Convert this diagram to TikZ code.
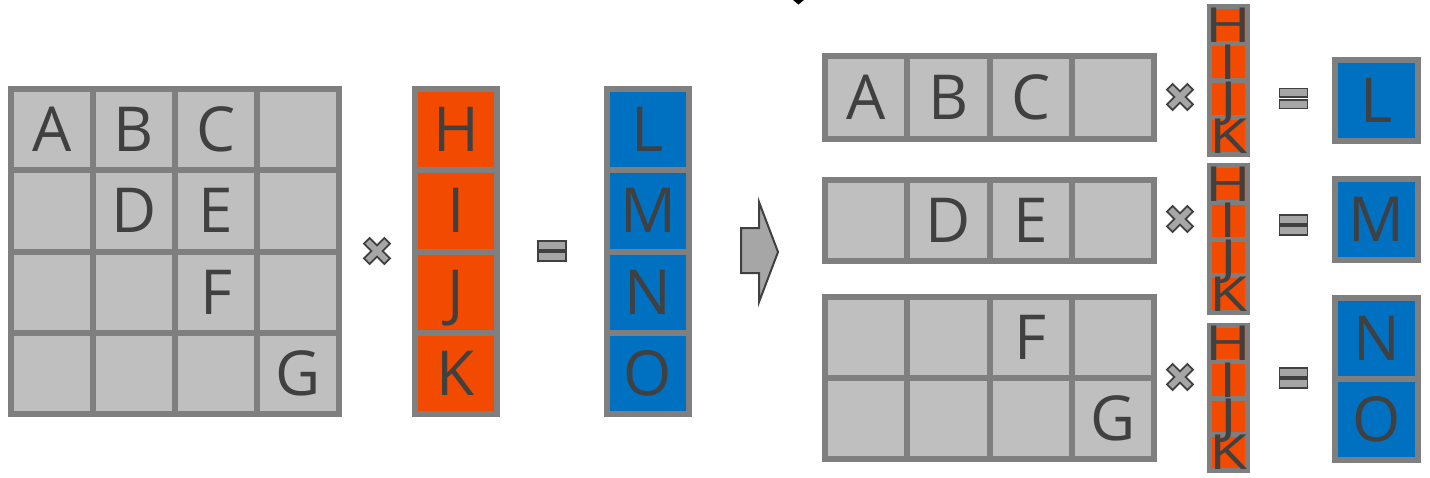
\documentclass[tikz,border=0pt]{standalone}
\usepackage{fontspec}
\setmainfont{Open Sans}
\usepackage{graphicx}
\definecolor{cellgray}{HTML}{BFBFBF}
\definecolor{linegray}{HTML}{7F7F7F}
\definecolor{txt}{HTML}{404040}
\definecolor{orng}{HTML}{F24B00}
\definecolor{blu}{HTML}{0070C0}
\definecolor{opgray}{HTML}{A6A6A6}
\begin{document}
\begin{tikzpicture}[x=1pt,y=-1pt,
  cell/.style={draw=linegray, line width=6pt, fill=cellgray, inner sep=0pt, text=txt,
    font=\fontsize{62}{62}\selectfont, text height=44pt, text depth=0pt, anchor=center,
    minimum width=82pt, minimum height=81.25pt},
  ocell/.style={cell, fill=orng},
  bcell/.style={cell, fill=blu},
  vcell/.style={draw=linegray, line width=5pt, fill=orng, inner sep=0pt,
    minimum width=38pt, minimum height=#1},
  vlet/.style={inner sep=0pt, text=txt, font=\fontsize{62}{62}\selectfont,
    text height=34.5pt, text depth=0pt},
  opline/.style={draw=txt, fill=opgray, line width=1.8pt, line join=miter},
  timesop/.pic={\filldraw[opline, rotate=45] (4,4) -- (4,14.4) -- (-4,14.4) -- (-4,4) -- (-14.4,4) -- (-14.4,-4)
      -- (-4,-4) -- (-4,-14.4) -- (4,-14.4) -- (4,-4) -- (14.4,-4) -- (14.4,4) -- cycle;},
  equalsop/.pic={\filldraw[opline] (-14,-10) rectangle (14,-1.2); \filldraw[opline] (-14,1.2) rectangle (14,10);}
]
\useasboundingbox (0,0) rectangle (1430,477);

% left matrix
\foreach \r/\c/\t in {1/1/A,1/2/B,1/3/C,1/4/{},2/1/{},2/2/D,2/3/E,2/4/{},3/1/{},3/2/{},3/3/F,3/4/{},4/1/{},4/2/{},4/3/{},4/4/G}
  \node[cell] (m\r\c) at ({11+82*(\c-0.5)}, {89+81.25*(\r-0.5)}) {\t};

% orange vector
\foreach \r/\t in {1/H,2/I,3/J,4/K}
  \node[ocell] (x\r) at (456, {89+81.25*(\r-0.5)}) {\t};

% blue vector
\foreach \r/\t in {1/L,2/M,3/N,4/O}
  \node[bcell] (y\r) at (648, {89+81.25*(\r-0.5)}) {\t};

\pic (t0) at (377,251) {timesop};
\pic (e0) at (552,251) {equalsop};

% block arrow
\filldraw[opline, line width=2pt] (741,228) -- (759,228) -- (759,202) -- (778,252) -- (759,302) -- (759,273) -- (741,273) -- cycle;

% cut-off mark at the top
\fill[black] (793,0) -- (804,0) -- (798.5,4.5) -- cycle;

% right rows
\foreach \c/\t in {1/A,2/B,3/C,4/{}}
  \node[cell, minimum width=82.25pt, minimum height=82.4pt] (r1\c) at ({825+82.25*(\c-0.5)}, 97.5) {\t};
\foreach \c/\t in {1/{},2/D,3/E,4/{}}
  \node[cell, minimum width=82.25pt, minimum height=81pt] (r2\c) at ({825+82.25*(\c-0.5)}, 220.5) {\t};
\foreach \c/\t in {1/{},2/{},3/F,4/{}}
  \node[cell, minimum width=82.25pt, minimum height=81pt] (r3\c) at ({825+82.25*(\c-0.5)}, 337.5) {\t};
\foreach \c/\t in {1/{},2/{},3/{},4/G}
  \node[cell, minimum width=82.25pt, minimum height=81pt] (r4\c) at ({825+82.25*(\c-0.5)}, 418.5) {\t};

% thin vectors
\foreach \v/\top/\h in {1/6.5/37, 2/165.5/36.75, 3/325.5/36.25} {
  \foreach \k in {1,2,3,4}
    \node[vcell=\h pt] (v\v\k) at (1228.5, {\top+\h*(\k-0.5)}) {};
  \foreach \k/\t in {1/H,2/I,3/J,4/K}
    \node[vlet] (w\v\k) at (v\v\k.center) {\scalebox{1}[0.78]{\t}};
}

\pic (t1) at (1180,97) {timesop};
\pic (t2) at (1180,219) {timesop};
\pic (t3) at (1180,377) {timesop};
\pic (e1) at (1293.5,98.5) {equalsop};
\pic (e2) at (1293.5,225) {equalsop};
\pic (e3) at (1293.5,378) {equalsop};

% right blue results
\node[bcell, minimum width=83pt, minimum height=81pt] (z1) at (1376.5,100.5) {L};
\node[bcell, minimum width=83pt, minimum height=81pt] (z2) at (1376.5,219.5) {M};
\node[bcell, minimum width=83pt, minimum height=81pt] (z3) at (1376.5,338.5) {N};
\node[bcell, minimum width=83pt, minimum height=81pt] (z4) at (1376.5,419.5) {O};
\end{tikzpicture}
\end{document}
